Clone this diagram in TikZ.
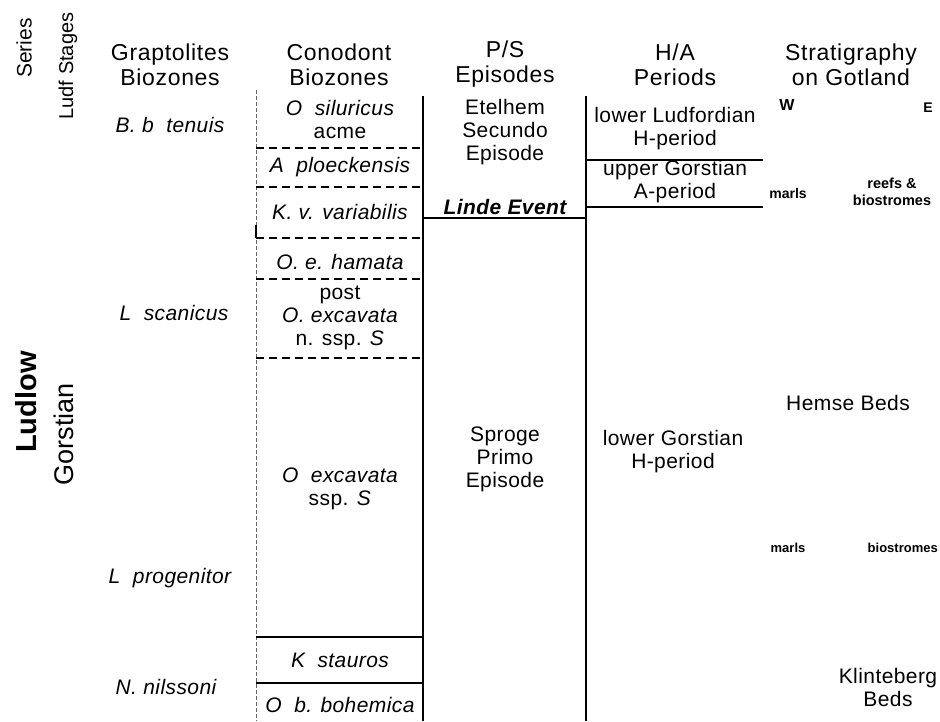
\documentclass[tikz,border=0pt]{standalone}
\usepackage{fontspec}
\setmainfont{Liberation Sans}
\newcommand\hdrfont{\fontsize{23}{25}\selectfont\addfontfeature{LetterSpace=3}}
\newcommand\txtfont{\fontsize{21}{23}\selectfont\addfontfeature{LetterSpace=2}}
\newcommand\smlfont{\fontsize{13}{17}\selectfont\bfseries}
\begin{document}
\begin{tikzpicture}[x=1pt,y=-1pt,
  hdr/.style={font=\hdrfont, align=center, inner sep=0pt},
  txt/.style={font=\txtfont, align=center, inner sep=0pt},
  itx/.style={font=\txtfont\itshape, align=center, inner sep=0pt},
  sml/.style={font=\smlfont, align=center, inner sep=0pt},
  rule/.style={line width=1.3pt, black},
  thick rule/.style={line width=1.8pt, black},
  dash rule/.style={line width=1.6pt, black, dash pattern=on 8pt off 5pt},
  faint rule/.style={line width=0.8pt, black!60, dash pattern=on 4pt off 2pt}]
\useasboundingbox (0,0) rectangle (940,721);
\fill[white] (0,0) rectangle (940,721);

% ---------- headers ----------
\node[font=\fontsize{21}{23}\selectfont, rotate=90, inner sep=0pt] (series) at (24,48) {Series};
\node[font=\fontsize{20}{23}\selectfont, rotate=90, inner sep=0pt] (stages) at (68,66) {Ludf Stages};
\node[hdr] (hgrap) at (170,64.5) {Graptolites\\Biozones};
\node[hdr] (hcono) at (339,64.5) {Conodont\\Biozones};
\node[hdr] (hps) at (505,64.5) {P/S\\Episodes};
\node[hdr] (hha) at (675,64.5) {H/A\\Periods};
\node[hdr] (hstrat) at (851,64.5) {Stratigraphy\\on Gotland};

% ---------- series / stage ----------
\node[font=\fontsize{29}{30}\selectfont\bfseries, rotate=90, inner sep=0pt] (ludlow) at (26,402) {Ludlow};
\node[font=\fontsize{27}{30}\selectfont, rotate=90, inner sep=0pt] (gorstian) at (64,434) {Gorstian};

% ---------- graptolites ----------
\node[itx] (g1) at (170,125) {B. b\ \ tenuis};
\node[itx] (g2) at (174,313) {L\ \ scanicus};
\node[itx] (g3) at (170,578) {L\ \ progenitor};
\node[itx] (g4) at (166,687) {N. nilssoni};

% ---------- column rules ----------
\coordinate (cl-t) at (256,90);   \coordinate (cl-b) at (256,721);
\coordinate (cr-t) at (423,96);   \coordinate (cr-b) at (423,721);
\coordinate (pr-t) at (586,96);   \coordinate (pr-b) at (586,721);
\draw[faint rule] (cl-t) -- (cl-b);
\draw[rule] (cr-t) -- (cr-b);
\draw[rule] (pr-t) -- (pr-b);

% conodont zone boundaries
\foreach \y/\n in {148/a,187/b,238/c,279/d,358/e}{
  \coordinate (dl-\n) at (256,\y); \coordinate (dr-\n) at (423,\y);
  \draw[dash rule] (dl-\n) -- (dr-\n);
}
\coordinate (corner) at (256,225);
\draw[rule] (corner) -- (dl-c);
\coordinate (s1l) at (256,637); \coordinate (s1r) at (423,637);
\coordinate (s2l) at (256,683); \coordinate (s2r) at (423,683);
\draw[thick rule] (s1l) -- (s1r);
\draw[thick rule] (s2l) -- (s2r);

% Linde event line
\coordinate (lin-l) at (423,218); \coordinate (lin-r) at (586,218);
\draw[thick rule] (lin-l) -- (lin-r);

% H/A boundaries
\coordinate (ha1l) at (586,160); \coordinate (ha1r) at (763,160);
\coordinate (ha2l) at (586,207); \coordinate (ha2r) at (763,207);
\draw[thick rule] (ha1l) -- (ha1r);
\draw[thick rule] (ha2l) -- (ha2r);

% ---------- conodont zones ----------
\node[txt] (c1) at (340,119.5) {\itshape O\ \ siluricus\\acme};
\node[itx] (c2) at (340,167) {A\ \ ploeckensis};
\node[itx] (c3) at (340,212) {K. v. variabilis};
\node[itx] (c4) at (340,262) {O. e. hamata};
\node[txt] (c5) at (340,317.5) {post\\\itshape O. excavata\\n. ssp. \textit{S}};
\node[txt] (c6) at (340,488.5) {\itshape O\ \ excavata\\ssp. \textit{S}};
\node[itx] (c7) at (340,660) {K\ \ stauros};
\node[itx] (c8) at (340,705) {O\ \ b. bohemica};

% ---------- P/S episodes ----------
\node[txt] (p1) at (505,132) {Etelhem\\Secundo\\Episode};
\node[font=\txtfont\bfseries\itshape, inner sep=0pt] (p2) at (505,207) {Linde Event};
\node[txt] (p3) at (505,459) {Sproge\\Primo\\Episode};

% ---------- H/A periods ----------
\node[txt] (h1) at (675,128.5) {lower Ludfordian\\H-period};
\node[txt] (h2) at (675,181.5) {upper Gorstian\\A-period};
\node[txt] (h3) at (673,451.5) {lower Gorstian\\H-period};

% ---------- stratigraphy on Gotland ----------
\node[sml, font=\fontsize{16}{17}\selectfont\bfseries] (w) at (787,105) {W};
\node[sml, font=\fontsize{14}{17}\selectfont\bfseries] (e) at (928,108) {E};
\node[sml, font=\fontsize{14}{17}\selectfont\bfseries] (m1) at (788,193) {marls};
\node[sml, font=\fontsize{14.5}{17}\selectfont\bfseries] (r1) at (892,191.5) {reefs \&\\biostromes};
\node[txt] (hemse) at (848,403) {Hemse Beds};
\node[sml] (m2) at (788,548) {marls};
\node[sml, anchor=east] (b2) at (938,548) {biostromes};
\node[txt] (klint) at (888,687) {Klinteberg\\Beds};
\end{tikzpicture}
\end{document}
